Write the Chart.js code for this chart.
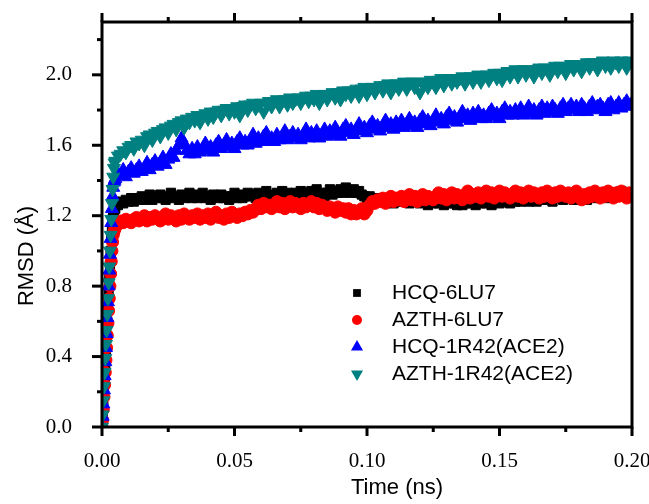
<!DOCTYPE html>
<html>
<head>
<meta charset="utf-8">
<script src="https://cdn.jsdelivr.net/npm/chart.js@4"></script>
<style>
  body { margin: 0; background: #fff; }
  #wrap { width: 649px; height: 504px; }
</style>
</head>
<body>
<div id="wrap"><canvas id="rmsdChart" width="649" height="504"></canvas></div>
<script>
// tiempos (ns): paso fino durante la subida inicial, luego cada 0.001
const tiempos = [
  0, 0.00025, 0.0005, 0.00075, 0.001, 0.00125, 0.0015, 0.00175, 0.002, 0.00225,
  0.0025, 0.00275, 0.003, 0.00325, 0.0035, 0.00375, 0.004, 0.00425, 0.0045, 0.00475,
  0.005, 0.006, 0.007, 0.008, 0.009, 0.010, 0.011, 0.012, 0.013, 0.014,
  0.015, 0.016, 0.017, 0.018, 0.019, 0.020, 0.021, 0.022, 0.023, 0.024,
  0.025, 0.026, 0.027, 0.028, 0.029, 0.030, 0.031, 0.032, 0.033, 0.034,
  0.035, 0.036, 0.037, 0.038, 0.039, 0.040, 0.041, 0.042, 0.043, 0.044,
  0.045, 0.046, 0.047, 0.048, 0.049, 0.050, 0.051, 0.052, 0.053, 0.054,
  0.055, 0.056, 0.057, 0.058, 0.059, 0.060, 0.061, 0.062, 0.063, 0.064,
  0.065, 0.066, 0.067, 0.068, 0.069, 0.070, 0.071, 0.072, 0.073, 0.074,
  0.075, 0.076, 0.077, 0.078, 0.079, 0.080, 0.081, 0.082, 0.083, 0.084,
  0.085, 0.086, 0.087, 0.088, 0.089, 0.090, 0.091, 0.092, 0.093, 0.094,
  0.095, 0.096, 0.097, 0.098, 0.099, 0.100, 0.101, 0.102, 0.103, 0.104,
  0.105, 0.106, 0.107, 0.108, 0.109, 0.110, 0.111, 0.112, 0.113, 0.114,
  0.115, 0.116, 0.117, 0.118, 0.119, 0.120, 0.121, 0.122, 0.123, 0.124,
  0.125, 0.126, 0.127, 0.128, 0.129, 0.130, 0.131, 0.132, 0.133, 0.134,
  0.135, 0.136, 0.137, 0.138, 0.139, 0.140, 0.141, 0.142, 0.143, 0.144,
  0.145, 0.146, 0.147, 0.148, 0.149, 0.150, 0.151, 0.152, 0.153, 0.154,
  0.155, 0.156, 0.157, 0.158, 0.159, 0.160, 0.161, 0.162, 0.163, 0.164,
  0.165, 0.166, 0.167, 0.168, 0.169, 0.170, 0.171, 0.172, 0.173, 0.174,
  0.175, 0.176, 0.177, 0.178, 0.179, 0.180, 0.181, 0.182, 0.183, 0.184,
  0.185, 0.186, 0.187, 0.188, 0.189, 0.190, 0.191, 0.192, 0.193, 0.194,
  0.195, 0.196, 0.197, 0.198, 0.199, 0.200
];

const hcq6lu7 = [
  0, 0.05, 0.12, 0.2, 0.28, 0.36, 0.44, 0.52, 0.6, 0.68,
  0.76, 0.84, 0.92, 1.0, 1.07, 1.13, 1.18, 1.21, 1.23, 1.24,
  1.24, 1.26, 1.28, 1.27, 1.29, 1.28, 1.30, 1.28, 1.30, 1.29,
  1.31, 1.29, 1.30, 1.32, 1.29, 1.31, 1.30, 1.32, 1.30, 1.29,
  1.31, 1.33, 1.30, 1.31, 1.29, 1.32, 1.30, 1.31, 1.33, 1.30,
  1.32, 1.30, 1.31, 1.33, 1.30, 1.31, 1.29, 1.32, 1.31, 1.30,
  1.32, 1.30, 1.31, 1.29, 1.31, 1.33, 1.30, 1.32, 1.30, 1.31,
  1.33, 1.31, 1.32, 1.30, 1.33, 1.31, 1.32, 1.34, 1.31, 1.32,
  1.31, 1.33, 1.32, 1.34, 1.31, 1.33, 1.32, 1.30, 1.33, 1.32,
  1.34, 1.32, 1.33, 1.31, 1.34, 1.33, 1.35, 1.32, 1.33, 1.31,
  1.33, 1.35, 1.32, 1.34, 1.33, 1.35, 1.33, 1.36, 1.34, 1.33,
  1.35, 1.33, 1.34, 1.32, 1.31, 1.30, 1.31, 1.29, 1.30, 1.28,
  1.30, 1.29, 1.28, 1.30, 1.29, 1.27, 1.29, 1.28, 1.30, 1.28,
  1.29, 1.27, 1.29, 1.28, 1.30, 1.27, 1.29, 1.28, 1.26, 1.28,
  1.27, 1.29, 1.27, 1.28, 1.26, 1.28, 1.27, 1.29, 1.27, 1.26,
  1.28, 1.26, 1.27, 1.29, 1.27, 1.28, 1.26, 1.28, 1.27, 1.29,
  1.27, 1.28, 1.26, 1.28, 1.29, 1.27, 1.28, 1.30, 1.28, 1.27,
  1.29, 1.28, 1.30, 1.28, 1.29, 1.31, 1.28, 1.30, 1.29, 1.28,
  1.30, 1.29, 1.31, 1.29, 1.30, 1.28, 1.31, 1.30, 1.32, 1.29,
  1.31, 1.30, 1.32, 1.29, 1.31, 1.30, 1.32, 1.31, 1.29, 1.31,
  1.32, 1.30, 1.31, 1.33, 1.31, 1.32, 1.30, 1.32, 1.33, 1.31,
  1.32, 1.34, 1.31, 1.33, 1.32, 1.33
];

const azth6lu7 = [
  0, 0.04, 0.1, 0.17, 0.24, 0.31, 0.38, 0.45, 0.52, 0.59,
  0.66, 0.73, 0.8, 0.87, 0.94, 1.0, 1.05, 1.09, 1.11, 1.12,
  1.13, 1.15, 1.17, 1.16, 1.18, 1.17, 1.16, 1.18, 1.19, 1.17,
  1.18, 1.20, 1.17, 1.19, 1.18, 1.20, 1.19, 1.17, 1.19, 1.21,
  1.18, 1.20, 1.19, 1.17, 1.20, 1.18, 1.21, 1.19, 1.18, 1.20,
  1.19, 1.21, 1.18, 1.20, 1.19, 1.21, 1.18, 1.20, 1.22, 1.19,
  1.20, 1.18, 1.21, 1.19, 1.22, 1.20, 1.19, 1.21, 1.20, 1.22,
  1.21, 1.23, 1.22, 1.24, 1.26, 1.24, 1.27, 1.25, 1.26, 1.24,
  1.26, 1.28, 1.25, 1.27, 1.24, 1.26, 1.28, 1.25, 1.27, 1.26,
  1.24, 1.27, 1.25, 1.26, 1.28, 1.25, 1.27, 1.24, 1.26, 1.25,
  1.23, 1.25, 1.24, 1.22, 1.25, 1.23, 1.24, 1.22, 1.24, 1.21,
  1.23, 1.21, 1.22, 1.24, 1.21, 1.23, 1.26, 1.28, 1.27, 1.29,
  1.28, 1.30, 1.27, 1.29, 1.31, 1.28, 1.30, 1.29, 1.31, 1.28,
  1.30, 1.32, 1.29, 1.31, 1.28, 1.30, 1.32, 1.29, 1.31, 1.30,
  1.29, 1.31, 1.33, 1.30, 1.32, 1.29, 1.31, 1.33, 1.30, 1.32,
  1.31, 1.29, 1.32, 1.34, 1.30, 1.32, 1.31, 1.33, 1.30, 1.32,
  1.34, 1.31, 1.33, 1.30, 1.32, 1.34, 1.31, 1.33, 1.32, 1.30,
  1.32, 1.34, 1.31, 1.33, 1.30, 1.32, 1.34, 1.31, 1.33, 1.32,
  1.30, 1.33, 1.31, 1.34, 1.32, 1.30, 1.33, 1.31, 1.34, 1.32,
  1.31, 1.33, 1.30, 1.32, 1.34, 1.31, 1.29, 1.32, 1.30, 1.33,
  1.31, 1.34, 1.32, 1.30, 1.33, 1.31, 1.34, 1.32, 1.30, 1.33,
  1.31, 1.34, 1.32, 1.30, 1.33, 1.32
];

const hcq1r42 = [
  0, 0.06, 0.13, 0.21, 0.29, 0.37, 0.45, 0.53, 0.62, 0.71,
  0.80, 0.89, 0.98, 1.07, 1.16, 1.24, 1.31, 1.36, 1.39, 1.40,
  1.41, 1.44, 1.43, 1.46, 1.42, 1.45, 1.47, 1.44, 1.46, 1.48,
  1.45, 1.47, 1.50, 1.46, 1.49, 1.51, 1.48, 1.50, 1.53, 1.49,
  1.52, 1.55, 1.53, 1.57, 1.60, 1.64, 1.61, 1.57, 1.55, 1.58,
  1.55, 1.59, 1.56, 1.58, 1.61, 1.57, 1.59, 1.56, 1.60, 1.62,
  1.58, 1.60, 1.63, 1.59, 1.61, 1.58, 1.62, 1.64, 1.60, 1.62,
  1.60, 1.63, 1.66, 1.61, 1.64, 1.62, 1.65, 1.67, 1.62, 1.64,
  1.62, 1.66, 1.63, 1.65, 1.68, 1.63, 1.65, 1.67, 1.64, 1.66,
  1.63, 1.66, 1.69, 1.64, 1.67, 1.65, 1.68, 1.64, 1.66, 1.69,
  1.65, 1.68, 1.66, 1.70, 1.67, 1.65, 1.69, 1.71, 1.67, 1.69,
  1.66, 1.69, 1.72, 1.68, 1.70, 1.67, 1.71, 1.73, 1.69, 1.71,
  1.68, 1.71, 1.74, 1.70, 1.72, 1.69, 1.73, 1.71, 1.74, 1.70,
  1.72, 1.75, 1.71, 1.73, 1.70, 1.74, 1.76, 1.72, 1.74, 1.71,
  1.74, 1.77, 1.73, 1.75, 1.72, 1.76, 1.78, 1.74, 1.76, 1.73,
  1.76, 1.79, 1.75, 1.77, 1.74, 1.78, 1.76, 1.79, 1.75, 1.77,
  1.75, 1.78, 1.80, 1.76, 1.78, 1.75, 1.79, 1.81, 1.77, 1.79,
  1.77, 1.80, 1.78, 1.81, 1.77, 1.79, 1.82, 1.78, 1.80, 1.77,
  1.80, 1.82, 1.78, 1.81, 1.79, 1.82, 1.80, 1.78, 1.81, 1.83,
  1.79, 1.81, 1.83, 1.80, 1.82, 1.79, 1.83, 1.81, 1.79, 1.82,
  1.84, 1.80, 1.82, 1.83, 1.81, 1.79, 1.83, 1.84, 1.80, 1.82,
  1.84, 1.81, 1.83, 1.85, 1.82, 1.84
];

const azth1r42 = [
  0, 0.07, 0.15, 0.23, 0.31, 0.39, 0.47, 0.55, 0.64, 0.73,
  0.82, 0.91, 1.0, 1.09, 1.18, 1.27, 1.35, 1.42, 1.47, 1.50,
  1.51, 1.54, 1.55, 1.57, 1.56, 1.59, 1.60, 1.58, 1.62, 1.61,
  1.63, 1.60, 1.65, 1.66, 1.63, 1.67, 1.68, 1.65, 1.69, 1.70,
  1.67, 1.71, 1.72, 1.69, 1.73, 1.74, 1.70, 1.75, 1.73, 1.76,
  1.74, 1.77, 1.73, 1.77, 1.78, 1.75, 1.79, 1.76, 1.79, 1.80,
  1.77, 1.80, 1.81, 1.78, 1.81, 1.79, 1.82, 1.77, 1.82, 1.83,
  1.80, 1.83, 1.84, 1.81, 1.83, 1.84, 1.79, 1.84, 1.85, 1.82,
  1.85, 1.86, 1.82, 1.85, 1.86, 1.83, 1.87, 1.84, 1.86, 1.87,
  1.84, 1.87, 1.88, 1.85, 1.88, 1.86, 1.89, 1.84, 1.88, 1.89,
  1.86, 1.89, 1.90, 1.87, 1.90, 1.86, 1.91, 1.89, 1.91, 1.88,
  1.91, 1.92, 1.88, 1.92, 1.93, 1.89, 1.92, 1.93, 1.90, 1.93,
  1.94, 1.91, 1.94, 1.95, 1.90, 1.94, 1.95, 1.92, 1.95, 1.96,
  1.92, 1.95, 1.96, 1.93, 1.96, 1.90, 1.95, 1.96, 1.93, 1.97,
  1.96, 1.93, 1.97, 1.98, 1.94, 1.97, 1.98, 1.95, 1.98, 1.96,
  1.98, 1.99, 1.95, 1.98, 1.99, 1.96, 1.99, 2.00, 1.96, 1.99,
  2.00, 1.97, 2.00, 2.01, 1.98, 2.01, 1.97, 2.01, 2.02, 1.99,
  2.02, 2.03, 1.99, 2.02, 2.03, 2.00, 2.03, 2.02, 1.99, 2.03,
  2.04, 2.01, 2.04, 2.03, 2.00, 2.04, 2.05, 2.02, 2.05, 2.04,
  2.01, 2.05, 2.06, 2.03, 2.06, 2.05, 2.02, 2.06, 2.07, 2.04,
  2.07, 2.06, 2.03, 2.07, 2.08, 2.05, 2.07, 2.04, 2.08, 2.07,
  2.05, 2.08, 2.07, 2.04, 2.08, 2.07
];

const etiquetas = ['HCQ-6LU7', 'AZTH-6LU7', 'HCQ-1R42(ACE2)', 'AZTH-1R42(ACE2)'];
const ticksX = [0, 0.025, 0.05, 0.075, 0.1, 0.125, 0.15, 0.175, 0.2];
const ticksY = [0, 0.2, 0.4, 0.6, 0.8, 1.0, 1.2, 1.4, 1.6, 1.8, 2.0, 2.2];

function puntos(valores) {
  return valores.map((v, i) => ({ x: tiempos[i], y: v }));
}

/* marco, marcas de ejes, títulos y leyenda */
const marcoPlugin = {
  id: 'marco',
  afterDatasetsDraw(chart) {
    const ctx = chart.ctx;
    const a = chart.chartArea;
    const sx = chart.scales.x, sy = chart.scales.y;
    ctx.save();
    ctx.strokeStyle = '#000';
    ctx.lineWidth = 3;
    ctx.strokeRect(a.left, a.top, a.right - a.left, a.bottom - a.top);

    ticksY.forEach((v, i) => {
      const y = sy.getPixelForValue(v);
      const len = i % 2 === 0 ? 10 : 5;
      ctx.beginPath();
      ctx.moveTo(a.left - len, y);
      ctx.lineTo(a.left, y);
      ctx.stroke();
    });
    ticksX.forEach((v, i) => {
      const x = sx.getPixelForValue(v);
      const len = i % 2 === 0 ? 9 : 5;
      ctx.beginPath();
      ctx.moveTo(x, a.bottom);
      ctx.lineTo(x, a.bottom + len);
      ctx.moveTo(x, a.top);
      ctx.lineTo(x, a.top - len);
      ctx.stroke();
    });

    // títulos
    ctx.fillStyle = '#000';
    ctx.font = '22px "Liberation Sans", Arial, sans-serif';
    ctx.textAlign = 'center';
    ctx.textBaseline = 'middle';
    ctx.fillText('Time (ns)', 397, 488);
    ctx.save();
    ctx.translate(27, 256);
    ctx.rotate(-Math.PI / 2);
    ctx.fillText('RMSD (Å)', 0, 0);
    ctx.restore();

    // leyenda
    ctx.font = '21px "Liberation Sans", Arial, sans-serif';
    ctx.textAlign = 'left';
    const filas = [293, 320, 347, 374];
    const tamLeyenda = [5.5, 5, 7, 7];
    chart.data.datasets.forEach((ds, i) => {
      ctx.fillStyle = ds.backgroundColor;
      ctx.strokeStyle = ds.backgroundColor;
      Chart.helpers.drawPoint(ctx, {
        pointStyle: ds.pointStyle,
        rotation: ds.rotation || 0,
        radius: tamLeyenda[i],
        borderWidth: 0
      }, 357, filas[i]);
      ctx.fillStyle = '#000';
      ctx.fillText(etiquetas[i], 392, filas[i]);
    });
    ctx.restore();
  }
};

document.addEventListener('DOMContentLoaded', () => {
  const ctx = document.getElementById('rmsdChart').getContext('2d');
  const serie = (nombre, valores, color, estilo, radio, orden, rot) => ({
    label: nombre,
    data: puntos(valores),
    showLine: false,
    backgroundColor: color,
    borderColor: color,
    pointBackgroundColor: color,
    pointBorderColor: color,
    pointBorderWidth: 1,
    pointStyle: estilo,
    pointRadius: radio,
    rotation: rot || 0,
    order: orden
  });

  new Chart(ctx, {
    type: 'scatter',
    data: {
      datasets: [
        serie(etiquetas[0], hcq6lu7, '#000000', 'rect', 6.5, 4),
        serie(etiquetas[1], azth6lu7, '#ff0000', 'circle', 6, 3),
        serie(etiquetas[2], hcq1r42, '#0000ff', 'triangle', 7.5, 2),
        serie(etiquetas[3], azth1r42, '#008080', 'triangle', 7.5, 1, 180)
      ]
    },
    options: {
      responsive: false,
      animation: false,
      layout: { padding: { top: 22, right: 17, left: 0, bottom: 0 } },
      plugins: {
        legend: { display: false },
        tooltip: { enabled: false }
      },
      scales: {
        x: {
          type: 'linear',
          min: 0,
          max: 0.2,
          grid: { display: false },
          border: { display: false },
          afterFit: s => { s.height = 77; s.paddingLeft = 0; s.paddingRight = 0; },
          ticks: {
            stepSize: 0.05,
            autoSkip: false,
            maxRotation: 0,
            padding: 14,
            color: '#000',
            font: { family: '"Liberation Serif", "Times New Roman", serif', size: 21 },
            callback: v => v.toFixed(2)
          }
        },
        y: {
          min: 0,
          max: 2.3,
          grid: { display: false },
          border: { display: false },
          afterFit: s => { s.width = 102; s.paddingTop = 0; s.paddingBottom = 0; },
          ticks: {
            stepSize: 0.2,
            includeBounds: false,
            autoSkip: false,
            padding: 22,
            color: '#000',
            font: { family: '"Liberation Serif", "Times New Roman", serif', size: 21 },
            callback: v => (Math.round(v * 10) % 4 === 0 ? v.toFixed(1) : '')
          }
        }
      }
    },
    plugins: [marcoPlugin]
  });
});
</script>
</body>
</html>
